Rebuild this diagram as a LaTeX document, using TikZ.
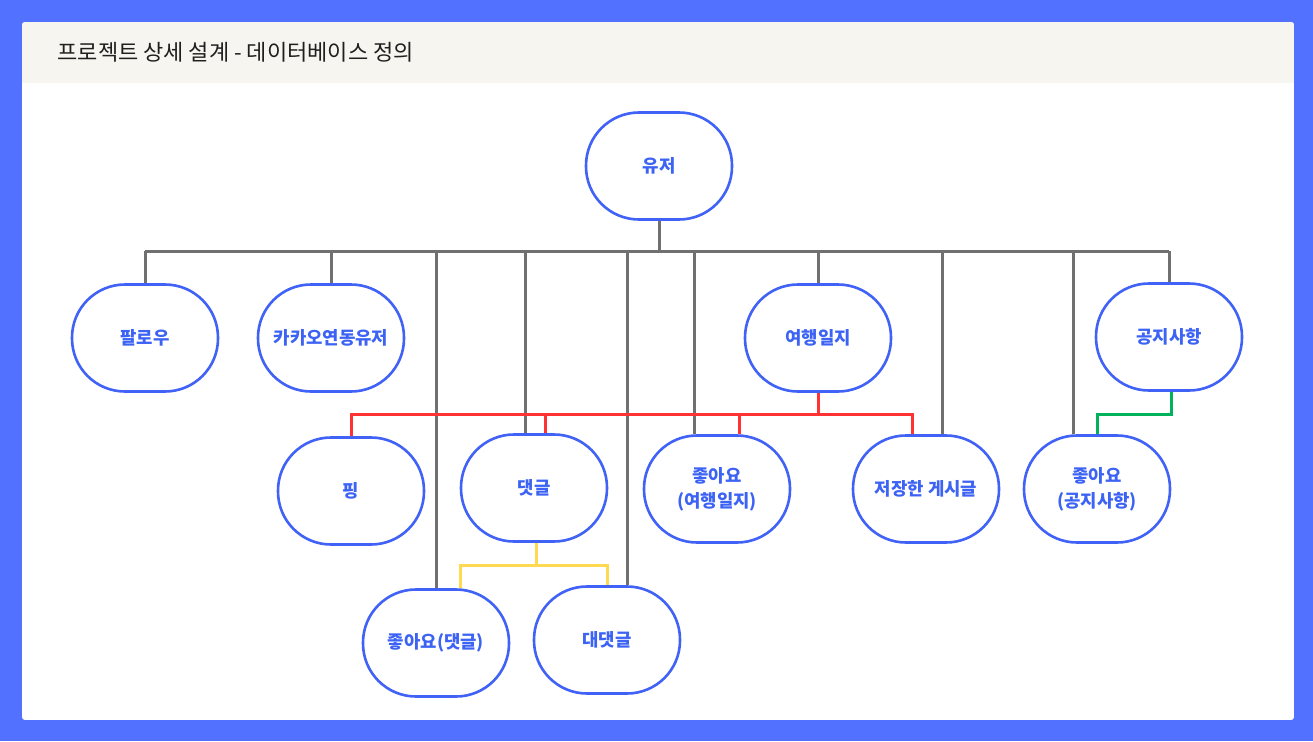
\documentclass[tikz,border=0pt]{standalone}
\usepackage{fontspec}
\usetikzlibrary{calc}
\newfontfamily\krfont{Noto Sans CJK KR}
\definecolor{bgblue}{HTML}{5271FF}
\definecolor{hdr}{HTML}{F7F5EF}
\definecolor{nblue}{HTML}{4062F6}
\definecolor{tblue}{HTML}{3D63F4}
\definecolor{lgray}{HTML}{707070}
\definecolor{lred}{HTML}{FF3333}
\definecolor{lyellow}{HTML}{FFD94F}
\definecolor{lgreen}{HTML}{00B35A}
\pgfdeclarelayer{back}
\pgfdeclarelayer{lines}
\pgfsetlayers{back,lines,main}
\begin{document}
\begin{tikzpicture}[x=1pt,y=-1pt,
  ent/.style={draw=nblue, line width=2.6pt, fill=white, rounded corners=53pt,
    minimum width=146pt, minimum height=107pt, inner sep=0pt,
    font=\krfont\bfseries\fontsize{17.8}{25}\selectfont, text=tblue, align=center},
  gl/.style={draw=lgray, line width=3pt},
  rl/.style={draw=lred, line width=3pt},
  yl/.style={draw=lyellow, line width=3pt},
  grl/.style={draw=lgreen, line width=3pt}]
\useasboundingbox (0,0) rectangle (1313,741);
\begin{pgfonlayer}{back}
\fill[bgblue] (0,0) rectangle (1313,741);
\begin{scope}
\clip[rounded corners=3pt] (22,22) rectangle (1294,720);
\fill[white] (22,22) rectangle (1294,720);
\fill[hdr] (22,22) rectangle (1294,83);
\end{scope}
\end{pgfonlayer}
\node[anchor=west, font=\krfont\fontsize{22}{26}\selectfont, text={black!88}] (title) at (54,52) {프로젝트 상세 설계 - 데이터베이스 정의};

\coordinate (gbus) at (0,251);
\coordinate (rbus) at (0,414);
\coordinate (ybus) at (0,565);
\coordinate (gnbus) at (0,414);

\node[ent] (user) at (659,166) {유저};
\node[ent] (follow) at (145,338) {팔로우};
\node[ent] (kakao) at (331,338) {카카오연동유저};
\node[ent] (diary) at (818,338) {여행일지};
\node[ent] (notice) at (1169,337) {공지사항};
\node[ent] (ping) at (351,491) {핑};
\node[ent] (cmt) at (534,488) {댓글};
\node[ent] (likediary) at (717,489) {좋아요\\(여행일지)};
\node[ent] (saved) at (926,489) {저장한 게시글};
\node[ent] (likenotice) at (1097,489) {좋아요\\(공지사항)};
\node[ent] (likecmt) at (436,643) {좋아요(댓글)};
\node[ent] (reply) at (607,640) {대댓글};

\begin{pgfonlayer}{lines}
% gray tree
\draw[gl] (user.south) -- (user.south |- gbus);
\draw[gl] (follow.north |- gbus) -- (notice.north |- gbus);
\draw[gl] (follow.north |- gbus) -- (follow.north);
\draw[gl] (kakao.north |- gbus) -- (kakao.north);
\draw[gl] (diary.north |- gbus) -- (diary.north);
\draw[gl] (notice.north |- gbus) -- (notice.north);
\draw[gl] (likecmt.north |- gbus) -- (likecmt.north);
\draw[gl] ($(cmt.north)+(-9,0)$) coordinate (g1) -- (g1 |- gbus);
\draw[gl] ($(reply.north)+(20,0)$) coordinate (g2) -- (g2 |- gbus);
\draw[gl] ($(likediary.north)+(-23,0)$) coordinate (g3) -- (g3 |- gbus);
\draw[gl] ($(saved.north)+(16,0)$) coordinate (g4) -- (g4 |- gbus);
\draw[gl] ($(likenotice.north)+(-24,0)$) coordinate (g5) -- (g5 |- gbus);

% red tree
\coordinate (r1) at ($(saved.north)+(-14,0)$);
\coordinate (r2) at ($(cmt.north)+(11,0)$);
\coordinate (r3) at ($(likediary.north)+(22,0)$);
\draw[rl] (diary.south) -- (diary.south |- rbus);
\draw[rl] (ping.north) -- (ping.north |- rbus) -- (r1 |- rbus) -- (r1);
\draw[rl] (r2) -- (r2 |- rbus);
\draw[rl] (r3) -- (r3 |- rbus);

% yellow tree
\coordinate (y0) at ($(cmt.south)+(2,0)$);
\coordinate (y1) at ($(likecmt.north)+(24,0)$);
\draw[yl] (y0) -- (y0 |- ybus);
\draw[yl] (y1) -- (y1 |- ybus) -- (reply.north |- ybus) -- (reply.north);

% green
\coordinate (n0) at ($(notice.south)+(2,0)$);
\draw[grl] (n0) -- (n0 |- gnbus) -- (likenotice.north |- gnbus) -- (likenotice.north);
\end{pgfonlayer}
\end{tikzpicture}
\end{document}
